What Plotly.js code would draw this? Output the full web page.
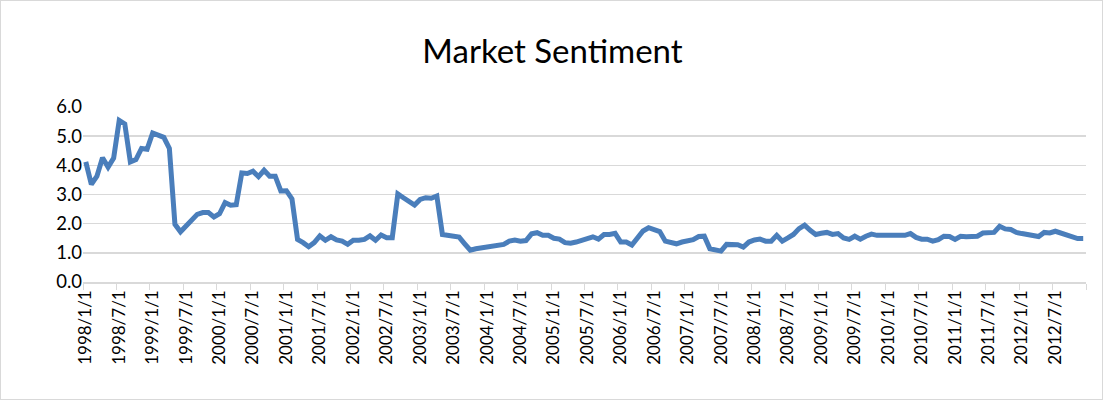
<!DOCTYPE html>
<html>
<head>
<meta charset="utf-8">
<script src="https://cdn.plot.ly/plotly-3.0.1.min.js"></script>
<style>
  html, body { margin: 0; padding: 0; background: #fff; }
  #chart { width: 1103px; height: 400px; box-sizing: border-box; border: 1px solid #d9d9d9; }
</style>
</head>
<body>
<div id="chart"></div>
<script>
// monthly categories 1998/1/1 .. 2012/12/1
var months = [];
for (var yr = 1998; yr <= 2012; yr++) {
  for (var m = 1; m <= 12; m++) {
    months.push(yr + '/' + m + '/1');
  }
}

var sentiment = [
  4.12, 3.35, 3.63, 4.26, 3.94, 4.25, 5.54, 5.42, 4.12, 4.20, 4.58, 4.55,
  5.11, 5.03, 4.96, 4.58, 1.98, 1.72, 1.92, 2.11, 2.32, 2.38, 2.38, 2.23,
  2.34, 2.72, 2.63, 2.65, 3.74, 3.72, 3.80, 3.61, 3.83, 3.63, 3.63, 3.12,
  3.13, 2.85, 1.46, 1.35, 1.21, 1.35, 1.58, 1.43, 1.55, 1.44, 1.40, 1.29,
  1.43, 1.43, 1.46, 1.58, 1.43, 1.61, 1.52, 1.52, 3.02, 2.89, 2.78, 2.64,
  2.83, 2.89, 2.87, 2.95, 1.63, 1.60, 1.54, 1.54, 1.31, 1.09, 1.14, 1.17,
  1.18, 1.20, 1.23, 1.29, 1.40, 1.44, 1.40, 1.42, 1.65, 1.69, 1.60, 1.60,
  1.50, 1.47, 1.35, 1.33, 1.37, 1.42, 1.48, 1.55, 1.47, 1.63, 1.63, 1.67,
  1.37, 1.37, 1.27, 1.52, 1.75, 1.86, 1.80, 1.73, 1.40, 1.37, 1.31, 1.37,
  1.40, 1.45, 1.56, 1.57, 1.14, 1.12, 1.06, 1.29, 1.30, 1.28, 1.20, 1.37,
  1.44, 1.47, 1.40, 1.40, 1.60, 1.40, 1.51, 1.63, 1.83, 1.95, 1.77, 1.63,
  1.67, 1.70, 1.63, 1.66, 1.51, 1.46, 1.57, 1.47, 1.57, 1.64, 1.60, 1.60,
  1.60, 1.60, 1.60, 1.60, 1.66, 1.53, 1.47, 1.47, 1.40, 1.45, 1.57, 1.56,
  1.46, 1.57, 1.55, 1.55, 1.57, 1.68, 1.68, 1.70, 1.91, 1.82, 1.80, 1.70,
  1.66, 1.63, 1.60, 1.56, 1.70, 1.68, 1.74, 1.68, 1.63, 1.57, 1.49, 1.49
];

var yTicks = [0, 1, 2, 3, 4, 5, 6];

var trace = {
  x: months,
  y: sentiment,
  type: 'scatter',
  mode: 'lines',
  line: { color: '#4a7ebb', width: 5 },
  hoverinfo: 'x+y'
};

var layout = {
  width: 1103,
  height: 400,
  margin: { l: 82, r: 18, t: 106, b: 119 },
  paper_bgcolor: 'rgba(0,0,0,0)',
  plot_bgcolor: '#fff',
  showlegend: false,
  font: { family: 'Lato, "Open Sans", sans-serif', color: '#000' },
  title: {
    text: 'Market Sentiment',
    font: { size: 33, color: '#000' },
    x: 0.5,
    xanchor: 'center',
    y: 0.875,
    yanchor: 'middle'
  },
  xaxis: {
    type: 'category',
    range: [-0.5, months.length - 0.5],
    tickmode: 'linear',
    tick0: 0,
    dtick: 6,
    tickson: 'boundaries',
    ticks: 'outside',
    ticklen: 6,
    tickcolor: '#d9d9d9',
    tickangle: -90,
    tickfont: { size: 17 },
    showgrid: false,
    showline: true,
    linecolor: '#d9d9d9',
    linewidth: 1.5,
    zeroline: false
  },
  yaxis: {
    range: [0, 6],
    tickvals: yTicks,
    tickformat: '.1f',
    tickfont: { size: 18.5 },
    ticks: '',
    showgrid: true,
    gridcolor: '#d9d9d9',
    gridwidth: 1.5,
    zeroline: false,
    showline: false
  }
};

Plotly.newPlot('chart', [trace], layout, { displayModeBar: false, staticPlot: true });
</script>
</body>
</html>
